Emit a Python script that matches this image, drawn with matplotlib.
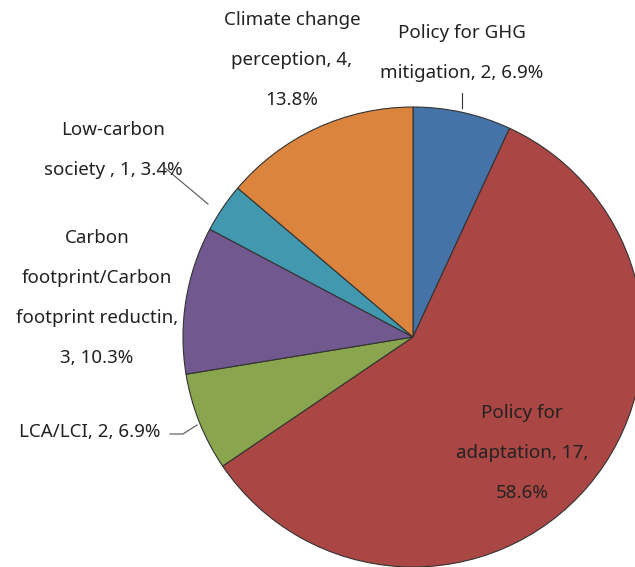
import matplotlib
matplotlib.use("Agg")
import matplotlib.pyplot as plt

categories = ["Policy for GHG mitigation", "Policy for adaptation", "LCA/LCI",
              "Carbon footprint/Carbon footprint reductin", "Low-carbon society ",
              "Climate change perception"]
counts = [2, 17, 2, 3, 1, 4]
label_texts = [
    "Policy for GHG\nmitigation, 2, 6.9%",
    "Policy for\nadaptation, 17,\n58.6%",
    "LCA/LCI, 2, 6.9%",
    "Carbon\nfootprint/Carbon\nfootprint reductin,\n3, 10.3%",
    "Low-carbon\nsociety , 1, 3.4%",
    "Climate change\nperception, 4,\n13.8%",
]
colors = ["#4572A7", "#AA4643", "#89A54E", "#71588F", "#4198AF", "#DB843D"]

W, H = 635, 567
fig = plt.figure(figsize=(W / 100, H / 100), dpi=100)
ax = fig.add_axes([0, 0, 1, 1])

cx, cy, r = 413, H - 337, 230
ax.pie(counts, colors=colors, startangle=90, counterclock=False,
       center=(cx, cy), radius=r, frame=True,
       wedgeprops=dict(edgecolor="#333333", linewidth=0.8))
ax.set_xlim(0, W)
ax.set_ylim(0, H)
ax.axis("off")

font = dict(family="Noto Sans", fontsize=13.5, color="#222222", linespacing=2.55)
# label positions (pixel coords from top)
pos = [(462, 53), (522, 453), (90, 432), (97, 298), (113, 150), (292, 60)]
for txt, (x, y) in zip(label_texts, pos):
    ax.text(x, H - y, txt, ha="center", va="center", **font)

# leader lines
ax.plot([462, 462], [H - 93, H - 108], color="#333333", lw=0.8)
ax.plot([165, 208], [H - 168, H - 204], color="#555555", lw=0.8)
ax.plot([170, 183, 197], [H - 434, H - 434, H - 425], color="#555555", lw=0.8)

fig.savefig("out.png", dpi=100)
